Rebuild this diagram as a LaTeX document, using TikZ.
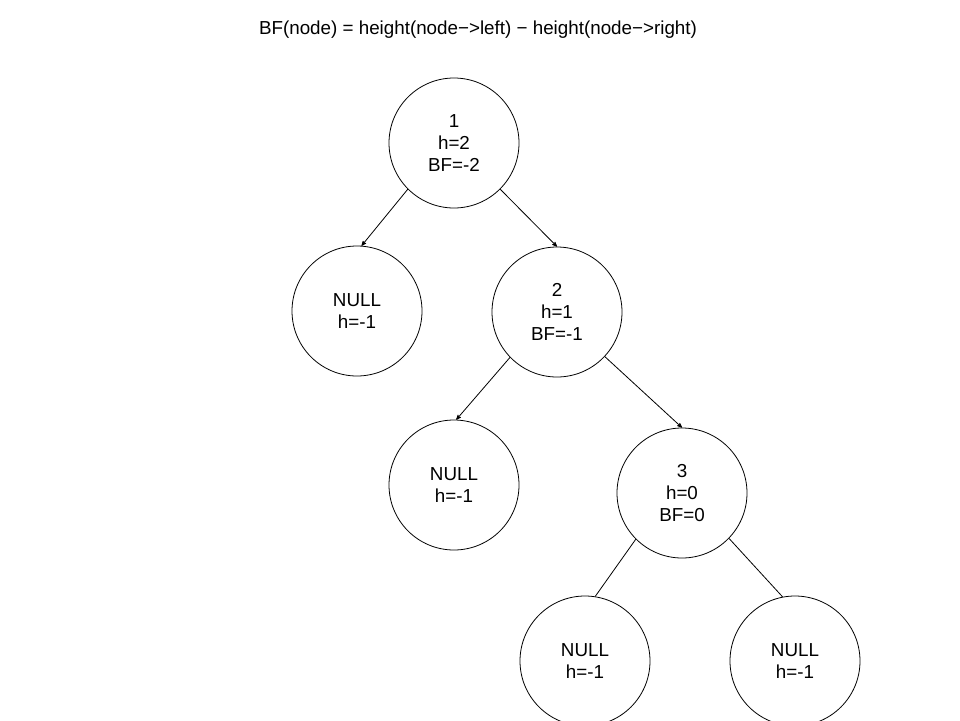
\documentclass[tikz,border=0pt]{standalone}
\usepackage{fontspec}
\setmainfont{Liberation Sans}
\usepackage{tikz}
\usetikzlibrary{arrows}

\begin{document}
\begin{tikzpicture}[x=1pt,y=-1pt,>=stealth',line width=0.8pt,
                    tree node/.style={circle,draw,minimum size=130pt,inner sep=0pt,
                      align=center,font=\fontsize{18.8}{22}\selectfont}]
  \useasboundingbox (0,0) rectangle (960,720);

  \node (title) at (478,30) {\fontsize{18.8}{22}\selectfont BF(node) = height(node−>left) − height(node−>right)};

  \node[tree node] (n1) at (454,143) {1\\h=2\\BF=-2};
  \node[tree node] (nullA) at (357,311) {NULL\\h=-1};
  \node[tree node] (n2) at (557,312) {2\\h=1\\BF=-1};
  \node[tree node] (nullB) at (454,485) {NULL\\h=-1};
  \node[tree node] (n3) at (682,493) {3\\h=0\\BF=0};
  \node[tree node] (nullC) at (585,661) {NULL\\h=-1};
  \node[tree node] (nullD) at (795,661) {NULL\\h=-1};

  \path[->]
    (n1.225) edge (nullA.86)
    (n1.315) edge (n2.90)
    (n2.224) edge (nullB.88)
    (n2.317) edge (n3.90);
  \path
    (n3.225) edge (nullC.81)
    (n3.316) edge (nullD.101);

\end{tikzpicture}
\end{document}
